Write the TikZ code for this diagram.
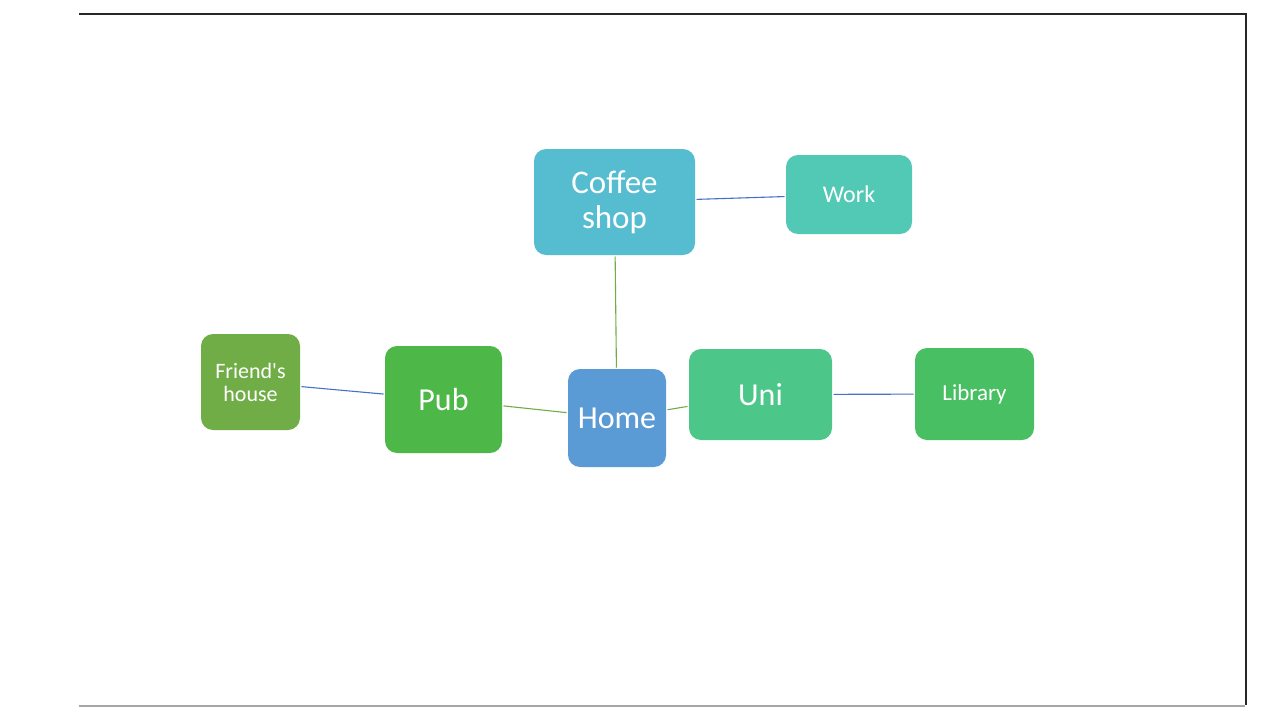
\documentclass[tikz,border=0pt]{standalone}
\usepackage{fontspec}
\newfontfamily\carl{Carlito}
\definecolor{cCoffee}{HTML}{56BDD0}
\definecolor{cWork}{HTML}{52C9B4}
\definecolor{cFriend}{HTML}{70AD47}
\definecolor{cPub}{HTML}{4DB848}
\definecolor{cHome}{HTML}{5B9BD5}
\definecolor{cUni}{HTML}{4DC68A}
\definecolor{cLib}{HTML}{47BF62}
\definecolor{lBlue}{HTML}{4472C4}
\definecolor{lGreen}{HTML}{70AD47}
\begin{document}
\begin{tikzpicture}[x=1pt,y=-1pt,
  box/.style={rounded corners=12pt, text=white, align=center, inner sep=0pt, outer sep=1.5pt},
  bl/.style={draw=lBlue, line width=1.1pt},
  gl/.style={draw=lGreen, line width=1.1pt}]
\useasboundingbox (0,0) rectangle (1280,720);
\fill[white] (0,0) rectangle (1280,720);
% frame
\draw[line width=2.2pt, black!85] (79,14) -- (1246,14) -- (1246,705);
\draw[line width=1.2pt, black!35] (79,706) -- (1245,706);
% nodes
\node[box, fill=cCoffee, minimum width=161pt, minimum height=106pt, font=\carl\fontsize{33}{35}\selectfont] (coffee) at (614.5,202) {Coffee\\shop};
\node[box, fill=cWork, minimum width=126pt, minimum height=79pt, font=\carl\fontsize{24}{28}\selectfont] (work) at (849,194.5) {Work};
\node[box, fill=cFriend, minimum width=99pt, minimum height=96pt, font=\carl\fontsize{22}{23}\selectfont] (friend) at (250.5,382) {Friend's\\house};
\node[box, fill=cPub, minimum width=117pt, minimum height=107pt, font=\carl\fontsize{32}{36}\selectfont] (pub) at (443.5,399.5) {Pub};
\node[box, fill=cHome, minimum width=98pt, minimum height=98pt, font=\carl\fontsize{32}{36}\selectfont] (home) at (617,418) {Home};
\node[box, fill=cUni, minimum width=143pt, minimum height=91pt, font=\carl\fontsize{32}{36}\selectfont] (uni) at (760.5,394.5) {Uni};
\node[box, fill=cLib, minimum width=119pt, minimum height=92pt, font=\carl\fontsize{23}{28}\selectfont] (lib) at (974.5,394) {Library};
% connectors
\draw[bl] (coffee) -- (work);
\draw[gl] (coffee) -- (home);
\draw[bl] (friend) -- (pub);
\draw[gl] (pub) -- (home);
\draw[gl] (home) -- (uni);
\draw[bl] (uni) -- (lib);
\end{tikzpicture}
\end{document}
